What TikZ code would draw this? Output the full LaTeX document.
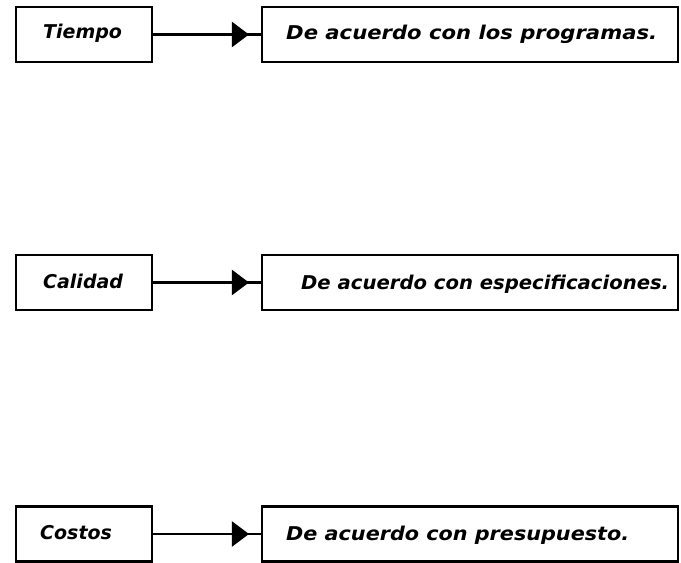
\documentclass[tikz,border=0pt]{standalone}
\usepackage{fontspec}
\setmainfont{DejaVu Sans}
\usetikzlibrary{arrows.meta,decorations.markings}
\newcommand{\fittxt}[2]{\resizebox{#1}{\height}{#2}}
\tikzset{
  box/.style={draw=black, line width=2.4pt, inner sep=0pt},
  lbox/.style={box, minimum width=136pt, minimum height=55pt},
  rbox/.style={box, minimum width=416pt, minimum height=55pt},
  txt/.style={font=\fontsize{19}{22}\selectfont\bfseries\itshape, inner sep=0pt, anchor=base west},
  link/.style={line width=2.2pt, postaction={decorate},
    decoration={markings, mark=at position 0.89 with {\arrow{Triangle[length=17pt,width=25pt]}}}}
}
\begin{document}
\begin{tikzpicture}[x=1pt,y=-1pt]
\useasboundingbox (0,0) rectangle (681,563);
% row 1
\node[lbox] (t) at (84,34.5) {};
\node[rbox] (tr) at (470,34.5) {};
\node[txt] (tt) at (43,38) {Tiempo};
\node[txt] (ttr) at (286,39) {\fittxt{371pt}{De acuerdo con los programas.}};
\draw[link] (t.east) -- (tr.west);
% row 2
\node[lbox] (c) at (84,282.5) {};
\node[rbox] (cr) at (470,282.5) {};
\node[txt] (ct) at (43,288) {Calidad};
\node[txt] (ctr) at (301,289) {\fittxt{368pt}{De acuerdo con especificaciones.}};
\draw[link] (c.east) -- (cr.west);
% row 3
\node[lbox] (k) at (84,534) {};
\node[rbox] (kr) at (470,534) {};
\node[txt] (kt) at (40,539) {Costos};
\node[txt] (ktr) at (286,540) {\fittxt{343pt}{De acuerdo con presupuesto.}};
\draw[link] (k.east) -- (kr.west);
\end{tikzpicture}
\end{document}
